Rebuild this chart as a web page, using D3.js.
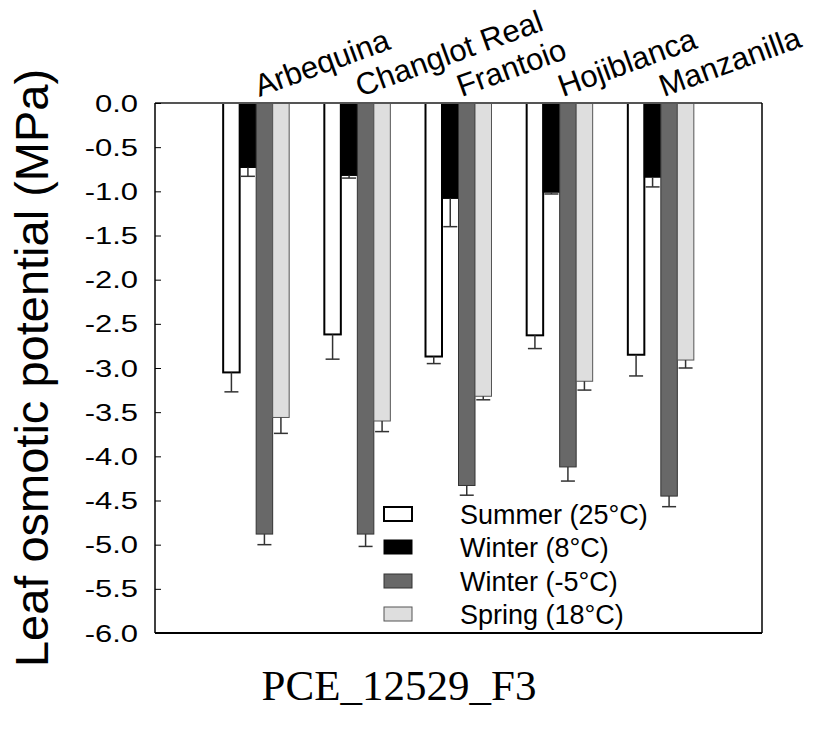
<!DOCTYPE html>
<html>
<head>
<meta charset="utf-8">
<script src="https://cdn.jsdelivr.net/npm/d3@7/dist/d3.min.js"></script>
<style>
  html, body { margin: 0; padding: 0; background: #fff; }
  svg { display: block; }
</style>
</head>
<body>
<svg id="chart" width="815" height="733"></svg>
<script>
// ---- Data ----
const categories = ["Arbequina", "Changlot Real", "Frantoio", "Hojiblanca", "Manzanilla"];
const seriesNames = ["Summer (25°C)", "Winter (8°C)", "Winter (-5°C)", "Spring (18°C)"];
const summer     = [-3.05, -2.62, -2.87, -2.63, -2.85];
const summerErr  = [0.22, 0.28, 0.08, 0.15, 0.24];
const winter8    = [-0.73, -0.82, -1.08, -1.01, -0.84];
const winter8Err = [0.10, 0.03, 0.32, 0.02, 0.11];
const winterM5   = [-4.88, -4.88, -4.33, -4.12, -4.45];
const winterM5Err= [0.12, 0.14, 0.11, 0.16, 0.12];
const spring     = [-3.56, -3.60, -3.32, -3.15, -2.91];
const springErr  = [0.18, 0.12, 0.04, 0.10, 0.09];
const yTicks = [0, -0.5, -1, -1.5, -2, -2.5, -3, -3.5, -4, -4.5, -5, -5.5, -6];
const yTickLabels = ["0.0", "-0.5", "-1.0", "-1.5", "-2.0", "-2.5", "-3.0", "-3.5", "-4.0", "-4.5", "-5.0", "-5.5", "-6.0"];

const values = [summer, winter8, winterM5, spring];
const errors = [summerErr, winter8Err, winterM5Err, springErr];
const fills   = ["#ffffff", "#000000", "#686868", "#dedede"];
const strokes = ["#000000", "#000000", "#333333", "#555555"];
const strokeW = [2, 1, 1, 1];

const svg = d3.select("#chart");
const L = 155, R = 762, T = 103, B = 633;

const x = d3.scalePoint().domain(categories).range([L, R]).padding(1);
const groupW = 66;
const xs = d3.scaleBand().domain(seriesNames).range([-groupW / 2, groupW / 2]).padding(0);
const y = d3.scaleLinear().domain([0, -6]).range([T, B]);

// Bars
const data = [];
categories.forEach((c, i) => {
  seriesNames.forEach((s, j) => {
    data.push({ c, s, j, v: values[j][i], e: errors[j][i] });
  });
});

const g = svg.append("g");
g.selectAll("rect.bar").data(data).join("rect")
  .attr("class", "bar")
  .attr("x", d => x(d.c) + xs(d.s))
  .attr("y", y(0))
  .attr("width", xs.bandwidth())
  .attr("height", d => y(d.v) - y(0))
  .attr("fill", d => fills[d.j])
  .attr("stroke", d => strokes[d.j])
  .attr("stroke-width", d => strokeW[d.j]);

// Error bars (downward)
const capW = 14;
const eb = g.selectAll("g.err").data(data).join("g").attr("class", "err")
  .attr("stroke", "#333").attr("stroke-width", 1.5);
eb.append("line")
  .attr("x1", d => x(d.c) + xs(d.s) + xs.bandwidth() / 2)
  .attr("x2", d => x(d.c) + xs(d.s) + xs.bandwidth() / 2)
  .attr("y1", d => y(d.v))
  .attr("y2", d => y(d.v - d.e));
eb.append("line")
  .attr("x1", d => x(d.c) + xs(d.s) + xs.bandwidth() / 2 - capW / 2)
  .attr("x2", d => x(d.c) + xs(d.s) + xs.bandwidth() / 2 + capW / 2)
  .attr("y1", d => y(d.v - d.e))
  .attr("y2", d => y(d.v - d.e));

// Frame
svg.append("line").attr("x1", L).attr("x2", R).attr("y1", T).attr("y2", T)
  .attr("stroke", "#555").attr("stroke-width", 2);
svg.append("line").attr("x1", L).attr("x2", L).attr("y1", T).attr("y2", B)
  .attr("stroke", "#000").attr("stroke-width", 1.5);
svg.append("line").attr("x1", R).attr("x2", R).attr("y1", T).attr("y2", B)
  .attr("stroke", "#000").attr("stroke-width", 1.5);
svg.append("line").attr("x1", L).attr("x2", R).attr("y1", B).attr("y2", B)
  .attr("stroke", "#000").attr("stroke-width", 2);

// Y axis with inward ticks
const yAxis = d3.axisLeft(y).tickValues(yTicks).tickSize(-6).tickFormat("");
const ya = svg.append("g").attr("transform", `translate(${L},0)`).call(yAxis);
ya.select(".domain").remove();
ya.selectAll(".tick line").attr("stroke", "#000").attr("stroke-width", 1);

// Tick labels (horizontally stretched as in reference)
svg.append("g").selectAll("text").data(yTicks).join("text")
  .attr("transform", d => `translate(138,${y(d) + 8.5}) scale(1.29,1)`)
  .attr("text-anchor", "end")
  .attr("font-family", "Liberation Sans, Arial, sans-serif")
  .attr("font-size", 24)
  .attr("fill", "#000")
  .text((d, i) => yTickLabels[i]);

// Y title
svg.append("text")
  .attr("transform", `translate(48,${(T + B) / 2}) rotate(-90)`)
  .attr("text-anchor", "middle")
  .attr("font-family", "Liberation Sans, Arial, sans-serif")
  .attr("font-size", 47)
  .attr("fill", "#000")
  .text("Leaf osmotic potential (MPa)");

// Category labels, rotated
svg.append("g").selectAll("text").data(categories).join("text")
  .attr("transform", d => `translate(${x(d) + 3},97) rotate(-20)`)
  .attr("text-anchor", "start")
  .attr("font-family", "Liberation Sans, Arial, sans-serif")
  .attr("font-size", 31)
  .attr("fill", "#000")
  .text(d => d);

// Legend
const legY = [514, 547, 581, 614];
const lg = svg.append("g").selectAll("g").data(seriesNames).join("g");
lg.append("rect")
  .attr("x", 384).attr("y", (d, i) => legY[i] - 7)
  .attr("width", 28).attr("height", 14)
  .attr("fill", (d, i) => fills[i])
  .attr("stroke", (d, i) => strokes[i])
  .attr("stroke-width", (d, i) => strokeW[i]);
lg.append("text")
  .attr("x", 460).attr("y", (d, i) => legY[i] + 9.5)
  .attr("font-family", "Liberation Sans, Arial, sans-serif")
  .attr("font-size", 27)
  .attr("fill", "#000")
  .text(d => d);

// Caption
svg.append("text")
  .attr("x", 399).attr("y", 700)
  .attr("text-anchor", "middle")
  .attr("font-family", "Liberation Serif, Times New Roman, serif")
  .attr("font-size", 43)
  .attr("fill", "#000")
  .text("PCE_12529_F3");
</script>
</body>
</html>
